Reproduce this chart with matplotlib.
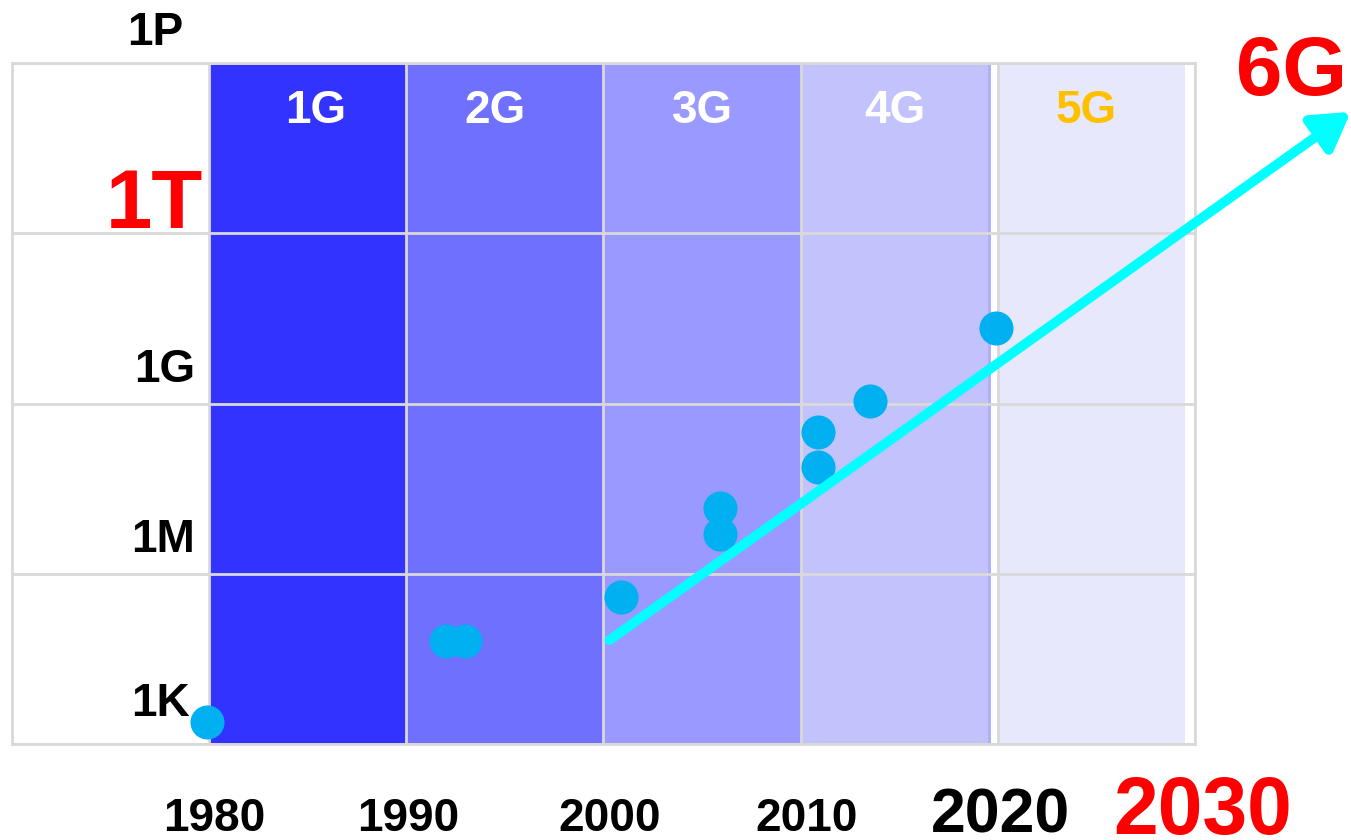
import matplotlib
matplotlib.use('Agg')
from matplotlib import pyplot as plt

# data: year and log10(bit rate)
years = [1979.9, 1992.0, 1993.0, 2000.9, 2005.9, 2005.9, 2010.9, 2010.9, 2013.5, 2019.9]
levels = [3.39, 4.81, 4.81, 5.59, 7.16, 6.70, 8.49, 7.88, 9.04, 10.33]

trend_start = (2000.3, 4.83)
trend_end = (2037.9, 14.14)

gen_names = ['1G', '2G', '3G', '4G', '5G']
gen_spans = [(1980, 1990), (1990, 2000), (2000, 2010), (2010, 2019.65), (2020, 2029.5)]
gen_colors = ['#3333FF', '#7070FF', '#9999FF', '#C2C2FC', '#E8E8FC']
gen_text_colors = ['white', 'white', 'white', 'white', '#FFC000']
gen_label_x = [1985.4, 1994.5, 2005.0, 2014.8, 2024.5]

year_ticks = [1980, 1990, 2000, 2010, 2020, 2030]
rate_ticks = [3, 6, 9, 12, 15]
rate_labels = ['1K', '1M', '1G', '1T', '1P']

plt.rcParams['font.family'] = ['Liberation Sans', 'DejaVu Sans']
plt.rcParams['font.weight'] = 'bold'

fig = plt.figure(figsize=(13.51, 8.40), dpi=100)
ax = fig.add_axes([12 / 1351, 96 / 840, 1183 / 1351, 681 / 840])
ax.set_xlim(1970, 2030)
ax.set_ylim(3, 15)

for (x0, x1), c in zip(gen_spans, gen_colors):
    ax.axvspan(x0, x1, color=c, lw=0, zorder=1)
ax.axvspan(2019.5, 2019.65, color='#B0B0FA', lw=0, zorder=1)

'''grid and frame'''
ax.set_xticks(year_ticks)
ax.set_yticks(rate_ticks)
ax.set_xticklabels([])
ax.set_yticklabels([])
ax.tick_params(length=0)
ax.set_axisbelow(False)
ax.grid(color='#D9D9D9', linewidth=2)
for s in ax.spines.values():
    s.set_color('#D9D9D9')
    s.set_linewidth(2)

for name, x, c in zip(gen_names, gen_label_x, gen_text_colors):
    ax.text(x, 14.16, name, color=c, fontsize=33, fontweight='bold', ha='center', va='center', zorder=5)

ax.scatter(years, levels, s=34 ** 2 * 0.52, color='#00B0F0', zorder=4, clip_on=False, linewidths=0)

ax.annotate('', xy=trend_end, xytext=trend_start,
            arrowprops=dict(arrowstyle='-|>,head_length=1.0,head_width=0.6', color='#00FFFF',
                            lw=7, shrinkA=0, shrinkB=0, mutation_scale=22),
            annotation_clip=False, zorder=6)

# y labels
ylab_x = [1979.0, 1979.3, 1979.3, 1979.7, 1978.7]
ylab_y = [3.49, 6.38, 9.38, 12.09, 15.32]
for lab, x, y in zip(rate_labels, ylab_x, ylab_y):
    if lab == '1T':
        ax.text(x, y, lab, color='red', fontsize=60, fontweight='bold', ha='right', va='baseline', clip_on=False)
    else:
        ax.text(x, y, lab, color='black', fontsize=33, fontweight='bold', ha='right', va='baseline', clip_on=False)

# x labels
xlab_x = [1980.25, 1990.1, 2000.3, 2010.3, 2020.15, 2030.4]
for yr, x in zip(year_ticks, xlab_x):
    if yr == 2030:
        ax.text(x, 1.42, str(yr), color='red', fontsize=58, fontweight='bold', ha='center', va='baseline', clip_on=False)
    elif yr == 2020:
        ax.text(x, 1.44, str(yr), color='black', fontsize=45, fontweight='bold', ha='center', va='baseline', clip_on=False)
    else:
        ax.text(x, 1.47, str(yr), color='black', fontsize=33, fontweight='bold', ha='center', va='baseline', clip_on=False)

ax.text(2034.9, 14.44, '6G', color='red', fontsize=60, fontweight='bold', ha='center', va='baseline', clip_on=False)

fig.savefig('out.png', dpi=100)
plt.close()
